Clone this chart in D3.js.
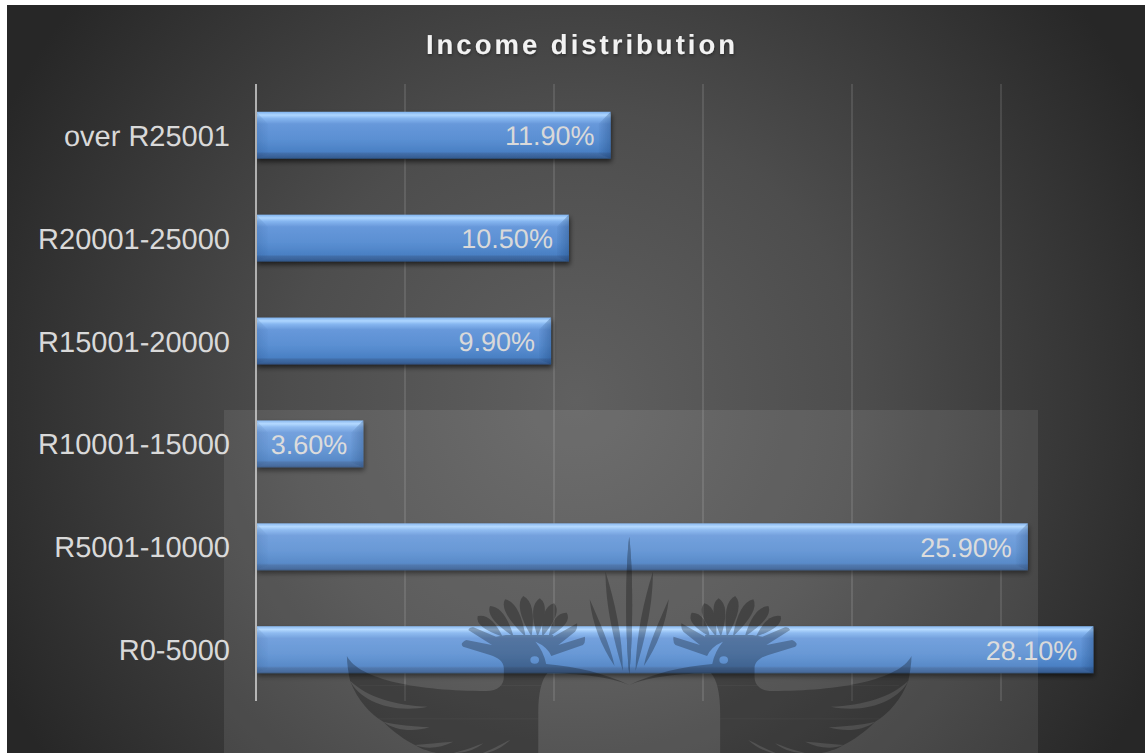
<!DOCTYPE html>
<html>
<head>
<meta charset="utf-8">
<script src="https://cdnjs.cloudflare.com/ajax/libs/d3/7.8.5/d3.min.js"></script>
<style>
  html, body { margin: 0; padding: 0; background: #fff; }
  svg { display: block; }
  text { font-family: "Liberation Sans", Arial, sans-serif; text-rendering: geometricPrecision; }
</style>
</head>
<body>
<svg id="chart" width="1145" height="753"></svg>
<script>
const chartTitle = "Income distribution";
const categories = ["over R25001", "R20001-25000", "R15001-20000", "R10001-15000", "R5001-10000", "R0-5000"];
const shares = [11.9, 10.5, 9.9, 3.6, 25.9, 28.1];
const gridTicks = [5, 10, 15, 20, 25];

const svg = d3.select("#chart");
const defs = svg.append("defs");

// Panel background
const panelGrad = defs.append("radialGradient").attr("id", "panelGrad")
  .attr("gradientUnits", "userSpaceOnUse")
  .attr("cx", 576).attr("cy", 400).attr("r", 640);
[[0, "#606060"], [0.45, "#4d4d4d"], [1, "#272727"]].forEach(([o, c]) =>
  panelGrad.append("stop").attr("offset", o).attr("stop-color", c));

// Bar face: bright rim at the top, darker lip at the bottom
const barGrad = defs.append("linearGradient").attr("id", "barGrad")
  .attr("x1", 0).attr("y1", 0).attr("x2", 0).attr("y2", 1);
[[0, "#7fb2ee"], [0.07, "#aed6ff"], [0.14, "#86b6f0"], [0.26, "#6798da"],
 [0.6, "#5a8fd2"], [0.85, "#4a80c4"], [0.89, "#416da8"], [0.97, "#375f95"], [1, "#2b4a75"]]
  .forEach(([o, c]) => barGrad.append("stop").attr("offset", o).attr("stop-color", c));

// Side bevels fade towards the bar's outer edge
const sideGrad = defs.append("linearGradient").attr("id", "sideGrad")
  .attr("x1", 0).attr("y1", 0).attr("x2", 1).attr("y2", 0);
sideGrad.append("stop").attr("offset", 0).attr("stop-color", "#123a70").attr("stop-opacity", 0.04);
sideGrad.append("stop").attr("offset", 1).attr("stop-color", "#123a70").attr("stop-opacity", 0.34);

const shadow = defs.append("filter").attr("id", "barShadow")
  .attr("x", "-5%").attr("y", "-20%").attr("width", "110%").attr("height", "150%");
shadow.append("feDropShadow").attr("dx", 1).attr("dy", 3).attr("stdDeviation", 2.5)
  .attr("flood-color", "#000").attr("flood-opacity", 0.6);

const titleShadow = defs.append("filter").attr("id", "titleShadow")
  .attr("x", "-5%").attr("y", "-30%").attr("width", "110%").attr("height", "170%");
titleShadow.append("feDropShadow").attr("dx", 0.5).attr("dy", 1.5).attr("stdDeviation", 1.5)
  .attr("flood-color", "#000").attr("flood-opacity", 0.4);

svg.append("rect").attr("x", 7).attr("y", 5).attr("width", 1138).attr("height", 748)
  .attr("fill", "url(#panelGrad)");

// Scales
const x = d3.scaleLinear().domain([0, 30]).range([256, 1150]);
const y = d3.scaleBand().domain(categories).range([84, 701]).paddingInner(0.543).paddingOuter(0.27);

// Gridlines
svg.append("g").selectAll("line").data(gridTicks).join("line")
  .attr("x1", d => x(d)).attr("x2", d => x(d))
  .attr("y1", 84).attr("y2", 701)
  .attr("stroke", "#fff").attr("stroke-opacity", 0.11).attr("stroke-width", 2);

// Bars
const bevel = 12;
const bars = svg.append("g").selectAll("g").data(categories).join("g")
  .attr("filter", "url(#barShadow)");
bars.append("rect")
  .attr("x", x(0)).attr("y", d => y(d))
  .attr("width", (d, i) => x(shares[i]) - x(0)).attr("height", y.bandwidth())
  .attr("fill", "url(#barGrad)");
bars.append("path").attr("fill", "url(#sideGrad)")
  .attr("d", (d, i) => {
    const x1 = x(shares[i]), y0 = y(d), y1 = y0 + y.bandwidth();
    return `M${x1},${y0}L${x1 - bevel},${y0 + bevel}L${x1 - bevel},${y1 - 5}L${x1},${y1}Z`;
  });
bars.append("path").attr("fill", "url(#sideGrad)").attr("opacity", 0.45)
  .attr("transform", d => `translate(${2 * x(0)},0) scale(-1,1)`)
  .attr("d", d => {
    const x0 = x(0), y0 = y(d), y1 = y0 + y.bandwidth();
    return `M${x0},${y0}L${x0 - bevel},${y0 + bevel}L${x0 - bevel},${y1 - 5}L${x0},${y1}Z`;
  });

// Vertical baseline
svg.append("line").attr("x1", x(0)).attr("x2", x(0)).attr("y1", 84).attr("y2", 701)
  .attr("stroke", "#b0b0b0").attr("stroke-width", 2);

// Category axis
const axis = svg.append("g").attr("transform", `translate(${x(0)},0)`)
  .call(d3.axisLeft(y).tickSize(0).tickPadding(26));
axis.select(".domain").remove();
axis.selectAll("text").attr("font-size", 29).attr("fill", "#d9d9d9").attr("dy", "0.36em")
  .style("font-family", '"Liberation Sans", Arial, sans-serif');

// Value labels
svg.append("g").selectAll("text").data(categories).join("text")
  .attr("x", (d, i) => x(shares[i]) - 16)
  .attr("y", d => y(d) + y.bandwidth() / 2 + 10)
  .attr("text-anchor", "end").attr("font-size", 27).attr("fill", "#d9d9d9")
  .text((d, i) => d3.format(".2f")(shares[i]) + "%");

// Title
svg.append("text").attr("x", 582).attr("y", 54).attr("text-anchor", "middle")
  .attr("font-size", 27.5).attr("font-weight", "bold").attr("letter-spacing", 3)
  .attr("fill", "#f2f2f2").attr("filter", "url(#titleShadow)")
  .text(chartTitle);

// Crest watermark laid over the lower part of the chart
svg.append("rect").attr("x", 224).attr("y", 410).attr("width", 814).attr("height", 343)
  .attr("fill", "#fff").attr("fill-opacity", 0.085);

const sideOutline = "M68,408C100,480 250,513 420,513C450,513 465,495 465,470L465,445C465,425 450,412 430,405" +
  "L362,380Q352,370 370,360L435,375L375,330Q378,320 388,322L445,350L470,345L590,345L590,350L650,310Q652,325 645,335" +
  "L603,375L670,350Q672,368 665,375L585,408Q575,380 545,365Q566,395 572,432C650,440 720,460 782,495" +
  "C730,470 650,460 575,460C560,480 552,520 552,580L552,699L295,699C280,695 260,690 240,675" +
  "C215,660 185,635 160,605C125,580 95,540 76,482C72,460 68,430 68,408Z";
const crescents = [
  "M76,482C100,540 180,582 272,560C190,556 120,532 76,482Z",
  "M160,605C190,632 235,636 277,622C235,618 195,616 160,605Z",
  "M240,675C270,689 305,684 337,665C300,668 270,672 240,675Z",
  "M345,699C375,697 395,687 413,670C395,678 375,688 338,699Z",
  "M421,699C445,692 465,677 481,660C462,670 445,683 412,699Z"
];
const quills = [
  "M782,50C792,150 792,350 782,462C772,350 772,150 782,50Z",
  "M722,155C745,240 765,350 766,452C745,370 722,260 722,155Z",
  "M682,238C705,300 735,380 745,438C712,380 688,310 682,238Z"
];
// Fan feathers on the crest, [base x, base y, tip x, tip y]
const fanFeathers = [
  [462, 350, 399, 288], [490, 350, 430, 258], [520, 350, 468, 238], [535, 350, 514, 228],
  [550, 350, 556, 235], [562, 350, 592, 250], [578, 350, 624, 278]
];
const featherPath = ([bx, by, tx, ty]) => {
  const mx = (bx + tx) / 2, my = (by + ty) / 2, dx = tx - bx, dy = ty - by;
  const len = Math.hypot(dx, dy), w = 30;
  const ox = -dy / len * w, oy = dx / len * w;
  const cx = mx + dx * 0.3, cy = my + dy * 0.3;
  return `M${bx},${by}Q${cx + ox},${cy + oy} ${tx},${ty}Q${cx - ox},${cy - oy} ${bx},${by}Z`;
};
// Faint horizontal rules running through the wings
const wingRules = [495, 595];

const bird = defs.append("mask").attr("id", "birdMask")
  .attr("maskUnits", "userSpaceOnUse").attr("x", 0).attr("y", 0).attr("width", 1145).attr("height", 753);
bird.append("rect").attr("width", 1145).attr("height", 753).attr("fill", "#000");
const maskWing = bird.append("g").attr("transform", "translate(320,520) scale(0.3954,0.3333)");
[1, -1].forEach(s => {
  const side = maskWing.append("g").attr("transform", s < 0 ? "translate(1564,0) scale(-1,1)" : null);
  side.append("path").attr("d", sideOutline).attr("fill", "#fff");
  fanFeathers.forEach(f => side.append("path").attr("d", featherPath(f)).attr("fill", "#fff"));
  crescents.forEach(d => side.append("path").attr("d", d).attr("fill", "#000"));
  side.append("circle").attr("cx", 543).attr("cy", 420).attr("r", 11).attr("fill", "#000");
  quills.forEach(d => side.append("path").attr("d", d).attr("fill", "#fff"));
  wingRules.forEach(r => side.append("rect").attr("x", 100).attr("y", r).attr("width", 460).attr("height", 3)
    .attr("fill", "#000").attr("fill-opacity", 0.25));
});
svg.append("rect").attr("x", 224).attr("y", 410).attr("width", 814).attr("height", 343)
  .attr("fill", "#000").attr("fill-opacity", 0.27).attr("mask", "url(#birdMask)");
</script>
</body>
</html>
